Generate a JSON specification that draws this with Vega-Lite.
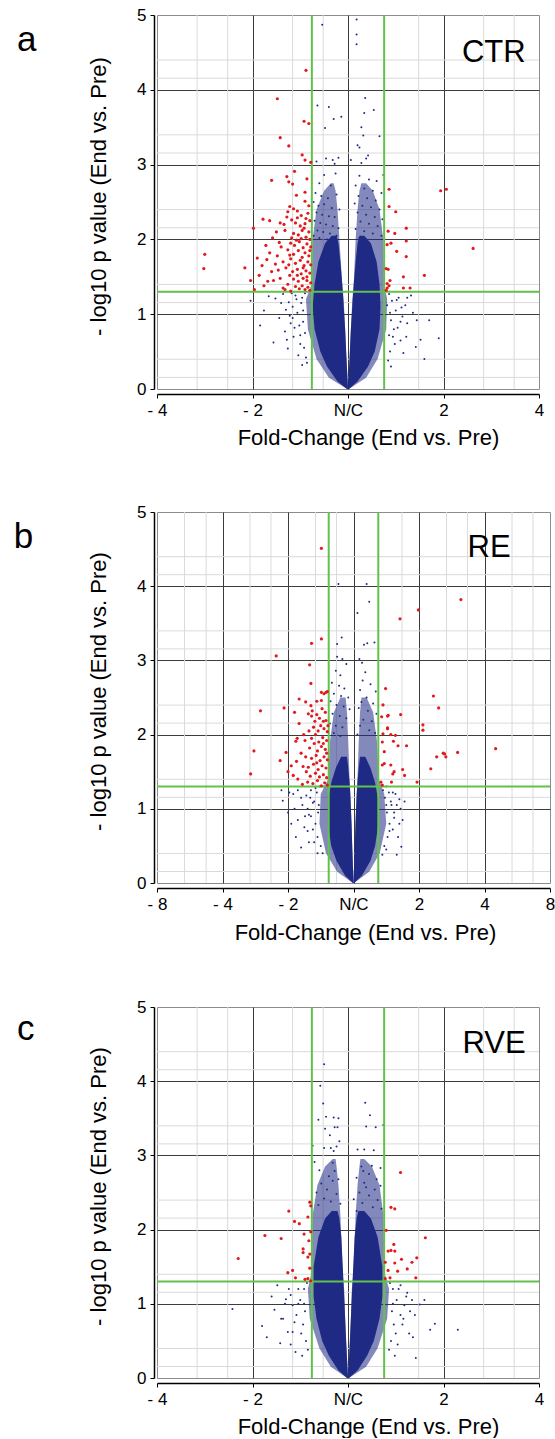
{
"$schema": "https://vega.github.io/schema/vega-lite/v6.json",
"padding": {"left": 13, "top": 5, "right": 0, "bottom": 0},
"background": "white",
"config": {
 "view": {"stroke": "#8c8c8c", "strokeWidth": 1},
 "axis": {"labelFont": "Liberation Sans", "titleFont": "Liberation Sans", "labelColor": "#000", "titleColor": "#000", "domainColor": "#000", "tickColor": "#000", "labelFontSize": 17, "titleFontSize": 22, "titleFontWeight": "normal", "labelOverlap": false, "labelFlush": false, "labelBound": false, "gridWidth": 1, "gridColor": "#3c3c3c", "domainWidth": 1.5, "tickSize": 4, "labelPadding": 4, "grid": true}
},
"datasets": {
"gridAC": [
{"o":"x","v":-1.58},{"o":"x","v":-1.26},{"o":"x","v":-0.58},{"o":"x","v":-0.26},{"o":"x","v":0.74},{"o":"x","v":1.42},{"o":"x","v":1.74},
{"o":"y","v":0.155},{"o":"y","v":0.398},{"o":"y","v":1.155},{"o":"y","v":1.398},{"o":"y","v":2.155},{"o":"y","v":2.398},{"o":"y","v":3.155},{"o":"y","v":3.398},{"o":"y","v":4.155},{"o":"y","v":4.398}
],
"gridB": [
{"o":"x","v":-2.58},{"o":"x","v":-2.25},{"o":"x","v":-1.58},{"o":"x","v":-1.26},{"o":"x","v":-0.58},{"o":"x","v":-0.26},{"o":"x","v":0.74},{"o":"x","v":1.42},{"o":"x","v":1.74},{"o":"x","v":2.42},{"o":"x","v":2.74},
{"o":"y","v":0.155},{"o":"y","v":0.398},{"o":"y","v":1.155},{"o":"y","v":1.398},{"o":"y","v":2.155},{"o":"y","v":2.398},{"o":"y","v":3.155},{"o":"y","v":3.398},{"o":"y","v":4.155},{"o":"y","v":4.398}
],
"areaA": [
{"g":"Lm","t":"m","y":0,"x1":-0.01,"x2":0},{"g":"Lm","t":"m","y":0.15,"x1":-0.2,"x2":-0.005},{"g":"Lm","t":"m","y":0.4,"x1":-0.33,"x2":-0.015},{"g":"Lm","t":"m","y":0.8,"x1":-0.42,"x2":-0.03},{"g":"Lm","t":"m","y":1.2,"x1":-0.44,"x2":-0.045},{"g":"Lm","t":"m","y":1.4,"x1":-0.38,"x2":-0.06},{"g":"Lm","t":"m","y":2.0,"x1":-0.37,"x2":-0.09},{"g":"Lm","t":"m","y":2.4,"x1":-0.33,"x2":-0.11},{"g":"Lm","t":"m","y":2.65,"x1":-0.25,"x2":-0.13},{"g":"Lm","t":"m","y":2.75,"x1":-0.18,"x2":-0.15},
{"g":"Lc","t":"c","y":0,"x1":-0.01,"x2":0},{"g":"Lc","t":"c","y":0.1,"x1":-0.11,"x2":-0.004},{"g":"Lc","t":"c","y":0.3,"x1":-0.22,"x2":-0.012},{"g":"Lc","t":"c","y":0.5,"x1":-0.29,"x2":-0.02},{"g":"Lc","t":"c","y":0.8,"x1":-0.35,"x2":-0.03},{"g":"Lc","t":"c","y":1.1,"x1":-0.37,"x2":-0.045},{"g":"Lc","t":"c","y":1.4,"x1":-0.35,"x2":-0.06},{"g":"Lc","t":"c","y":1.7,"x1":-0.31,"x2":-0.08},{"g":"Lc","t":"c","y":1.95,"x1":-0.24,"x2":-0.1},{"g":"Lc","t":"c","y":2.05,"x1":-0.17,"x2":-0.12},
{"g":"Rm","t":"m","y":0,"x1":0,"x2":0.01},{"g":"Rm","t":"m","y":0.15,"x1":0.005,"x2":0.19},{"g":"Rm","t":"m","y":0.4,"x1":0.015,"x2":0.31},{"g":"Rm","t":"m","y":0.8,"x1":0.03,"x2":0.4},{"g":"Rm","t":"m","y":1.2,"x1":0.045,"x2":0.41},{"g":"Rm","t":"m","y":1.4,"x1":0.06,"x2":0.38},{"g":"Rm","t":"m","y":2.0,"x1":0.08,"x2":0.37},{"g":"Rm","t":"m","y":2.4,"x1":0.1,"x2":0.33},{"g":"Rm","t":"m","y":2.65,"x1":0.12,"x2":0.26},{"g":"Rm","t":"m","y":2.75,"x1":0.14,"x2":0.19},
{"g":"Rc","t":"c","y":0,"x1":0,"x2":0.01},{"g":"Rc","t":"c","y":0.1,"x1":0.004,"x2":0.1},{"g":"Rc","t":"c","y":0.3,"x1":0.012,"x2":0.21},{"g":"Rc","t":"c","y":0.5,"x1":0.02,"x2":0.28},{"g":"Rc","t":"c","y":0.8,"x1":0.03,"x2":0.33},{"g":"Rc","t":"c","y":1.1,"x1":0.045,"x2":0.34},{"g":"Rc","t":"c","y":1.4,"x1":0.06,"x2":0.33},{"g":"Rc","t":"c","y":1.7,"x1":0.08,"x2":0.3},{"g":"Rc","t":"c","y":1.95,"x1":0.1,"x2":0.24},{"g":"Rc","t":"c","y":2.05,"x1":0.12,"x2":0.17}
],
"areaB": [
{"g":"Lm","t":"m","y":0,"x1":-0.01,"x2":0},{"g":"Lm","t":"m","y":0.15,"x1":-0.25,"x2":-0.005},{"g":"Lm","t":"m","y":0.4,"x1":-0.42,"x2":-0.015},{"g":"Lm","t":"m","y":0.8,"x1":-0.52,"x2":-0.03},{"g":"Lm","t":"m","y":1.2,"x1":-0.5,"x2":-0.045},{"g":"Lm","t":"m","y":1.4,"x1":-0.385,"x2":-0.06},{"g":"Lm","t":"m","y":1.9,"x1":-0.36,"x2":-0.08},{"g":"Lm","t":"m","y":2.3,"x1":-0.3,"x2":-0.1},{"g":"Lm","t":"m","y":2.5,"x1":-0.2,"x2":-0.12},
{"g":"Lc","t":"c","y":0,"x1":-0.01,"x2":0},{"g":"Lc","t":"c","y":0.1,"x1":-0.13,"x2":-0.004},{"g":"Lc","t":"c","y":0.3,"x1":-0.26,"x2":-0.012},{"g":"Lc","t":"c","y":0.5,"x1":-0.34,"x2":-0.02},{"g":"Lc","t":"c","y":0.8,"x1":-0.39,"x2":-0.03},{"g":"Lc","t":"c","y":1.1,"x1":-0.39,"x2":-0.045},{"g":"Lc","t":"c","y":1.35,"x1":-0.34,"x2":-0.06},{"g":"Lc","t":"c","y":1.55,"x1":-0.27,"x2":-0.08},{"g":"Lc","t":"c","y":1.7,"x1":-0.19,"x2":-0.1},
{"g":"Rm","t":"m","y":0,"x1":0,"x2":0.01},{"g":"Rm","t":"m","y":0.15,"x1":0.005,"x2":0.24},{"g":"Rm","t":"m","y":0.4,"x1":0.015,"x2":0.4},{"g":"Rm","t":"m","y":0.8,"x1":0.03,"x2":0.5},{"g":"Rm","t":"m","y":1.2,"x1":0.045,"x2":0.47},{"g":"Rm","t":"m","y":1.4,"x1":0.06,"x2":0.385},{"g":"Rm","t":"m","y":1.9,"x1":0.08,"x2":0.36},{"g":"Rm","t":"m","y":2.3,"x1":0.1,"x2":0.3},{"g":"Rm","t":"m","y":2.5,"x1":0.12,"x2":0.2},
{"g":"Rc","t":"c","y":0,"x1":0,"x2":0.01},{"g":"Rc","t":"c","y":0.1,"x1":0.004,"x2":0.13},{"g":"Rc","t":"c","y":0.3,"x1":0.012,"x2":0.26},{"g":"Rc","t":"c","y":0.5,"x1":0.02,"x2":0.33},{"g":"Rc","t":"c","y":0.8,"x1":0.03,"x2":0.38},{"g":"Rc","t":"c","y":1.1,"x1":0.045,"x2":0.38},{"g":"Rc","t":"c","y":1.35,"x1":0.06,"x2":0.33},{"g":"Rc","t":"c","y":1.55,"x1":0.08,"x2":0.26},{"g":"Rc","t":"c","y":1.7,"x1":0.1,"x2":0.18}
],
"areaC": [
{"g":"Lm","t":"m","y":0,"x1":-0.01,"x2":0},{"g":"Lm","t":"m","y":0.15,"x1":-0.18,"x2":-0.005},{"g":"Lm","t":"m","y":0.4,"x1":-0.3,"x2":-0.015},{"g":"Lm","t":"m","y":0.8,"x1":-0.4,"x2":-0.03},{"g":"Lm","t":"m","y":1.2,"x1":-0.42,"x2":-0.04},{"g":"Lm","t":"m","y":1.4,"x1":-0.385,"x2":-0.055},{"g":"Lm","t":"m","y":2.2,"x1":-0.37,"x2":-0.08},{"g":"Lm","t":"m","y":2.6,"x1":-0.32,"x2":-0.1},{"g":"Lm","t":"m","y":2.85,"x1":-0.24,"x2":-0.12},{"g":"Lm","t":"m","y":2.95,"x1":-0.16,"x2":-0.13},
{"g":"Lc","t":"c","y":0,"x1":-0.01,"x2":0},{"g":"Lc","t":"c","y":0.1,"x1":-0.1,"x2":-0.004},{"g":"Lc","t":"c","y":0.3,"x1":-0.2,"x2":-0.012},{"g":"Lc","t":"c","y":0.5,"x1":-0.27,"x2":-0.02},{"g":"Lc","t":"c","y":0.8,"x1":-0.33,"x2":-0.03},{"g":"Lc","t":"c","y":1.1,"x1":-0.36,"x2":-0.04},{"g":"Lc","t":"c","y":1.5,"x1":-0.36,"x2":-0.055},{"g":"Lc","t":"c","y":1.9,"x1":-0.31,"x2":-0.07},{"g":"Lc","t":"c","y":2.15,"x1":-0.24,"x2":-0.09},{"g":"Lc","t":"c","y":2.25,"x1":-0.17,"x2":-0.11},
{"g":"Rm","t":"m","y":0,"x1":0,"x2":0.01},{"g":"Rm","t":"m","y":0.15,"x1":0.005,"x2":0.19},{"g":"Rm","t":"m","y":0.4,"x1":0.015,"x2":0.31},{"g":"Rm","t":"m","y":0.8,"x1":0.03,"x2":0.41},{"g":"Rm","t":"m","y":1.2,"x1":0.04,"x2":0.43},{"g":"Rm","t":"m","y":1.4,"x1":0.055,"x2":0.385},{"g":"Rm","t":"m","y":2.2,"x1":0.08,"x2":0.37},{"g":"Rm","t":"m","y":2.6,"x1":0.1,"x2":0.33},{"g":"Rm","t":"m","y":2.85,"x1":0.12,"x2":0.25},{"g":"Rm","t":"m","y":2.95,"x1":0.13,"x2":0.17},
{"g":"Rc","t":"c","y":0,"x1":0,"x2":0.01},{"g":"Rc","t":"c","y":0.1,"x1":0.004,"x2":0.1},{"g":"Rc","t":"c","y":0.3,"x1":0.012,"x2":0.2},{"g":"Rc","t":"c","y":0.5,"x1":0.02,"x2":0.27},{"g":"Rc","t":"c","y":0.8,"x1":0.03,"x2":0.33},{"g":"Rc","t":"c","y":1.1,"x1":0.04,"x2":0.36},{"g":"Rc","t":"c","y":1.5,"x1":0.055,"x2":0.36},{"g":"Rc","t":"c","y":1.9,"x1":0.07,"x2":0.31},{"g":"Rc","t":"c","y":2.15,"x1":0.09,"x2":0.24},{"g":"Rc","t":"c","y":2.25,"x1":0.11,"x2":0.17}
],
"ptsA": [
{"x":-0.27,"y":4.87,"s":"n"},{"x":-0.32,"y":3.79,"s":"n"},{"x":-0.2,"y":3.77,"s":"n"},{"x":-0.15,"y":3.61,"s":"n"},{"x":-0.07,"y":3.64,"s":"n"},{"x":-0.24,"y":3.49,"s":"n"},{"x":-0.33,"y":3.04,"s":"n"},{"x":-0.23,"y":3.08,"s":"n"},{"x":-0.16,"y":3.06,"s":"n"},{"x":-0.1,"y":3.09,"s":"n"},{"x":-0.14,"y":3.01,"s":"n"},{"x":-0.13,"y":2.88,"s":"n"},{"x":-0.25,"y":2.86,"s":"n"},{"x":-0.3,"y":2.75,"s":"n"},{"x":-0.18,"y":2.72,"s":"n"},{"x":-0.34,"y":2.62,"s":"n"},{"x":-0.28,"y":2.58,"s":"n"},{"x":-0.21,"y":2.55,"s":"n"},{"x":-0.12,"y":2.6,"s":"n"},{"x":-0.36,"y":2.5,"s":"n"},{"x":-0.31,"y":2.45,"s":"n"},{"x":-0.25,"y":2.47,"s":"n"},{"x":-0.17,"y":2.42,"s":"n"},{"x":-0.09,"y":2.4,"s":"n"},{"x":-0.33,"y":2.36,"s":"n"},{"x":-0.27,"y":2.33,"s":"n"},{"x":-0.2,"y":2.31,"s":"n"},{"x":-0.14,"y":2.3,"s":"n"},{"x":-0.35,"y":2.25,"s":"n"},{"x":-0.29,"y":2.22,"s":"n"},{"x":-0.23,"y":2.2,"s":"n"},{"x":-0.16,"y":2.18,"s":"n"},{"x":-0.1,"y":2.15,"s":"n"},{"x":-0.32,"y":2.12,"s":"n"},{"x":-0.26,"y":2.1,"s":"n"},{"x":-0.19,"y":2.08,"s":"n"},{"x":-0.36,"y":2.05,"s":"n"},{"x":-0.12,"y":2.05,"s":"n"},{"x":-0.3,"y":2.02,"s":"n"},{"x":-0.22,"y":2.0,"s":"n"},
{"x":0.09,"y":4.94,"s":"n"},{"x":0.09,"y":4.74,"s":"n"},{"x":0.09,"y":4.61,"s":"n"},{"x":0.18,"y":3.89,"s":"n"},{"x":0.17,"y":3.69,"s":"n"},{"x":0.27,"y":3.73,"s":"n"},{"x":0.14,"y":3.5,"s":"n"},{"x":0.16,"y":3.39,"s":"n"},{"x":0.33,"y":3.38,"s":"n"},{"x":0.1,"y":3.26,"s":"n"},{"x":0.12,"y":3.23,"s":"n"},{"x":0.21,"y":3.12,"s":"n"},{"x":0.19,"y":3.08,"s":"n"},{"x":0.03,"y":3.06,"s":"n"},{"x":0.14,"y":3.02,"s":"n"},{"x":0.37,"y":2.86,"s":"n"},{"x":0.12,"y":2.85,"s":"n"},{"x":0.22,"y":2.8,"s":"n"},{"x":0.3,"y":2.78,"s":"n"},{"x":0.08,"y":2.72,"s":"n"},{"x":0.17,"y":2.68,"s":"n"},{"x":0.26,"y":2.65,"s":"n"},{"x":0.35,"y":2.62,"s":"n"},{"x":0.11,"y":2.58,"s":"n"},{"x":0.2,"y":2.55,"s":"n"},{"x":0.29,"y":2.52,"s":"n"},{"x":0.07,"y":2.48,"s":"n"},{"x":0.15,"y":2.45,"s":"n"},{"x":0.24,"y":2.43,"s":"n"},{"x":0.33,"y":2.4,"s":"n"},{"x":0.1,"y":2.36,"s":"n"},{"x":0.19,"y":2.33,"s":"n"},{"x":0.28,"y":2.3,"s":"n"},{"x":0.36,"y":2.27,"s":"n"},{"x":0.13,"y":2.24,"s":"n"},{"x":0.22,"y":2.21,"s":"n"},{"x":0.31,"y":2.18,"s":"n"},{"x":0.08,"y":2.14,"s":"n"},{"x":0.17,"y":2.11,"s":"n"},{"x":0.26,"y":2.08,"s":"n"},{"x":0.35,"y":2.05,"s":"n"},{"x":0.12,"y":2.02,"s":"n"},
{"x":-1.02,"y":1.18,"s":"n"},{"x":-0.83,"y":1.24,"s":"n"},{"x":-0.76,"y":1.21,"s":"n"},{"x":-0.65,"y":1.06,"s":"n"},{"x":-0.66,"y":0.77,"s":"n"},{"x":-0.63,"y":0.54,"s":"n"},{"x":-0.57,"y":0.7,"s":"n"},{"x":-0.72,"y":0.95,"s":"n"},{"x":-0.88,"y":1.05,"s":"n"},{"x":-0.7,"y":1.15,"s":"n"},{"x":-0.55,"y":1.25,"s":"n"},{"x":-0.6,"y":0.88,"s":"n"},{"x":-0.52,"y":0.45,"s":"n"},{"x":-0.48,"y":0.32,"s":"n"},{"x":-0.78,"y":0.62,"s":"n"},{"x":-0.68,"y":1.27,"s":"n"},{"x":-0.92,"y":0.85,"s":"n"},{"x":-0.58,"y":1.1,"s":"n"},
{"x":-0.46,"y":0.55,"s":"n"},{"x":-0.5,"y":0.72,"s":"n"},{"x":-0.47,"y":0.9,"s":"n"},{"x":-0.53,"y":1.02,"s":"n"},{"x":-0.49,"y":1.15,"s":"n"},{"x":-0.45,"y":1.28,"s":"n"},{"x":-0.56,"y":0.82,"s":"n"},{"x":-0.61,"y":0.98,"s":"n"},{"x":-0.44,"y":0.42,"s":"n"},{"x":-0.5,"y":0.6,"s":"n"},{"x":-0.54,"y":1.2,"s":"n"},{"x":-0.62,"y":1.16,"s":"n"},{"x":-0.47,"y":1.05,"s":"n"},{"x":-0.58,"y":0.95,"s":"n"},{"x":-0.51,"y":0.85,"s":"n"},{"x":-0.64,"y":0.66,"s":"n"},{"x":-0.45,"y":0.75,"s":"n"},{"x":-0.59,"y":1.28,"s":"n"},{"x":-0.43,"y":0.35,"s":"n"},{"x":-0.48,"y":1.22,"s":"n"},
{"x":0.72,"y":0.92,"s":"n"},{"x":0.76,"y":0.66,"s":"n"},{"x":0.95,"y":0.68,"s":"n"},{"x":0.71,"y":0.56,"s":"n"},{"x":0.62,"y":0.88,"s":"n"},{"x":0.51,"y":1.19,"s":"n"},{"x":0.56,"y":1.09,"s":"n"},{"x":0.66,"y":1.25,"s":"n"},{"x":0.8,"y":0.4,"s":"n"},{"x":0.58,"y":0.48,"s":"n"},{"x":0.45,"y":0.3,"s":"n"},{"x":0.68,"y":1.02,"s":"n"},{"x":0.85,"y":0.92,"s":"n"},{"x":0.55,"y":0.65,"s":"n"},{"x":0.62,"y":1.22,"s":"n"},
{"x":0.44,"y":0.5,"s":"n"},{"x":0.47,"y":0.7,"s":"n"},{"x":0.45,"y":0.92,"s":"n"},{"x":0.5,"y":1.05,"s":"n"},{"x":0.46,"y":1.18,"s":"n"},{"x":0.43,"y":1.27,"s":"n"},{"x":0.52,"y":0.82,"s":"n"},{"x":0.57,"y":0.97,"s":"n"},{"x":0.42,"y":0.38,"s":"n"},{"x":0.49,"y":0.6,"s":"n"},{"x":0.53,"y":1.22,"s":"n"},{"x":0.6,"y":1.12,"s":"n"},{"x":0.44,"y":1.02,"s":"n"},{"x":0.55,"y":0.9,"s":"n"},{"x":0.48,"y":0.8,"s":"n"},{"x":0.61,"y":0.7,"s":"n"},{"x":0.43,"y":0.72,"s":"n"},{"x":0.41,"y":1.12,"s":"n"},
{"x":-0.44,"y":4.26,"s":"r"},{"x":-0.74,"y":3.88,"s":"r"},{"x":-0.46,"y":3.58,"s":"r"},{"x":-0.41,"y":3.55,"s":"r"},{"x":-0.71,"y":3.36,"s":"r"},{"x":-0.62,"y":3.25,"s":"r"},{"x":-0.48,"y":3.13,"s":"r"},{"x":-0.45,"y":3.06,"s":"r"},{"x":-0.39,"y":3.03,"s":"r"},{"x":-0.56,"y":2.91,"s":"r"},{"x":-0.8,"y":2.79,"s":"r"},{"x":-0.64,"y":2.84,"s":"r"},{"x":-0.62,"y":2.77,"s":"r"},{"x":-0.58,"y":2.74,"s":"r"},{"x":-0.43,"y":2.81,"s":"r"},{"x":-0.45,"y":2.63,"s":"r"},{"x":-0.54,"y":2.59,"s":"r"},{"x":-0.45,"y":2.51,"s":"r"},{"x":-0.61,"y":2.44,"s":"r"},{"x":-0.57,"y":2.41,"s":"r"},{"x":-0.63,"y":2.37,"s":"r"},{"x":-0.53,"y":2.38,"s":"r"},{"x":-0.41,"y":2.45,"s":"r"},{"x":-0.42,"y":2.35,"s":"r"},{"x":-0.89,"y":2.27,"s":"r"},{"x":-0.53,"y":2.29,"s":"r"},{"x":-0.71,"y":2.22,"s":"r"},{"x":-0.67,"y":2.2,"s":"r"},{"x":-0.59,"y":2.26,"s":"r"},{"x":-0.55,"y":2.22,"s":"r"},{"x":-0.45,"y":2.21,"s":"r"},{"x":-0.48,"y":2.12,"s":"r"},{"x":-0.57,"y":2.08,"s":"r"},{"x":-0.52,"y":2.06,"s":"r"},{"x":-0.99,"y":2.15,"s":"r"},
{"x":-1.5,"y":1.8,"s":"r"},{"x":-1.51,"y":1.61,"s":"r"},{"x":-0.93,"y":1.52,"s":"r"},{"x":-0.85,"y":1.73,"s":"r"},{"x":-0.82,"y":1.82,"s":"r"},{"x":-0.76,"y":1.67,"s":"r"},{"x":-0.78,"y":1.45,"s":"r"},{"x":-0.73,"y":1.59,"s":"r"},{"x":-0.72,"y":1.96,"s":"r"},{"x":-0.68,"y":1.35,"s":"r"},{"x":-0.66,"y":1.33,"s":"r"},{"x":-0.61,"y":1.79,"s":"r"},
{"x":-0.4,"y":1.32,"s":"r"},{"x":-0.42,"y":1.36,"s":"r"},{"x":-0.45,"y":1.33,"s":"r"},{"x":-0.48,"y":1.38,"s":"r"},{"x":-0.51,"y":1.34,"s":"r"},{"x":-0.55,"y":1.37,"s":"r"},{"x":-0.6,"y":1.31,"s":"r"},{"x":-0.63,"y":1.4,"s":"r"},{"x":-0.39,"y":1.42,"s":"r"},{"x":-0.43,"y":1.45,"s":"r"},{"x":-0.47,"y":1.48,"s":"r"},{"x":-0.52,"y":1.44,"s":"r"},{"x":-0.57,"y":1.47,"s":"r"},{"x":-0.61,"y":1.52,"s":"r"},{"x":-0.4,"y":1.55,"s":"r"},{"x":-0.44,"y":1.58,"s":"r"},{"x":-0.49,"y":1.54,"s":"r"},{"x":-0.53,"y":1.6,"s":"r"},{"x":-0.58,"y":1.57,"s":"r"},{"x":-0.65,"y":1.62,"s":"r"},{"x":-0.39,"y":1.66,"s":"r"},{"x":-0.42,"y":1.7,"s":"r"},{"x":-0.46,"y":1.65,"s":"r"},{"x":-0.5,"y":1.72,"s":"r"},{"x":-0.55,"y":1.68,"s":"r"},{"x":-0.6,"y":1.74,"s":"r"},{"x":-0.41,"y":1.78,"s":"r"},{"x":-0.45,"y":1.82,"s":"r"},{"x":-0.48,"y":1.76,"s":"r"},{"x":-0.52,"y":1.85,"s":"r"},{"x":-0.57,"y":1.8,"s":"r"},{"x":-0.63,"y":1.86,"s":"r"},{"x":-0.39,"y":1.9,"s":"r"},{"x":-0.43,"y":1.94,"s":"r"},{"x":-0.47,"y":1.89,"s":"r"},{"x":-0.51,"y":1.97,"s":"r"},{"x":-0.56,"y":1.92,"s":"r"},{"x":-0.4,"y":2.0,"s":"r"},{"x":-0.44,"y":2.03,"s":"r"},{"x":-0.49,"y":2.01,"s":"r"},{"x":-0.54,"y":1.99,"s":"r"},{"x":-0.59,"y":2.02,"s":"r"},{"x":-0.41,"y":2.1,"s":"r"},{"x":-0.46,"y":2.15,"s":"r"},{"x":-0.5,"y":2.18,"s":"r"},{"x":-0.4,"y":2.25,"s":"r"},{"x":-0.44,"y":2.28,"s":"r"},{"x":-0.49,"y":2.32,"s":"r"},{"x":-0.66,"y":2.12,"s":"r"},{"x":-0.7,"y":1.9,"s":"r"},{"x":-0.68,"y":1.7,"s":"r"},{"x":-0.71,"y":1.48,"s":"r"},{"x":-0.74,"y":1.78,"s":"r"},{"x":-0.64,"y":2.3,"s":"r"},{"x":-0.6,"y":1.95,"s":"r"},{"x":-0.43,"y":1.5,"s":"r"},{"x":-0.53,"y":1.52,"s":"r"},{"x":-0.47,"y":1.62,"s":"r"},{"x":-0.62,"y":1.66,"s":"r"},{"x":-0.4,"y":1.85,"s":"r"},
{"x":-1.02,"y":1.45,"s":"r"},{"x":-0.95,"y":1.75,"s":"r"},{"x":-1.08,"y":1.62,"s":"r"},{"x":-0.88,"y":1.38,"s":"r"},{"x":-0.98,"y":1.33,"s":"r"},{"x":-0.84,"y":1.44,"s":"r"},{"x":-0.8,"y":1.57,"s":"r"},{"x":-0.9,"y":1.65,"s":"r"},{"x":-0.86,"y":1.92,"s":"r"},{"x":-0.79,"y":2.02,"s":"r"},{"x":-0.75,"y":2.1,"s":"r"},{"x":-0.82,"y":2.25,"s":"r"},
{"x":0.43,"y":2.67,"s":"r"},{"x":0.43,"y":2.44,"s":"r"},{"x":0.5,"y":2.37,"s":"r"},{"x":0.42,"y":2.11,"s":"r"},{"x":0.61,"y":2.15,"s":"r"},{"x":0.49,"y":2.08,"s":"r"},{"x":0.61,"y":1.98,"s":"r"},{"x":0.45,"y":1.95,"s":"r"},{"x":0.97,"y":2.65,"s":"r"},{"x":1.03,"y":2.67,"s":"r"},{"x":1.31,"y":1.88,"s":"r"},{"x":0.41,"y":1.93,"s":"r"},{"x":0.51,"y":1.84,"s":"r"},{"x":0.61,"y":1.77,"s":"r"},{"x":0.4,"y":1.61,"s":"r"},{"x":0.42,"y":1.6,"s":"r"},{"x":0.58,"y":1.5,"s":"r"},{"x":0.8,"y":1.52,"s":"r"},{"x":0.58,"y":1.35,"s":"r"},{"x":0.65,"y":1.35,"s":"r"},{"x":0.41,"y":1.41,"s":"r"},{"x":0.41,"y":1.35,"s":"r"},{"x":0.43,"y":1.38,"s":"r"},{"x":0.4,"y":1.32,"s":"r"},{"x":0.44,"y":1.45,"s":"r"}
],
"ptsB": [
{"x":-0.23,"y":4.03,"s":"n"},{"x":0.2,"y":4.03,"s":"n"},{"x":0.24,"y":3.79,"s":"n"},{"x":0.06,"y":3.64,"s":"n"},{"x":-0.18,"y":3.31,"s":"n"},{"x":-0.25,"y":3.22,"s":"n"},{"x":0.16,"y":3.21,"s":"n"},{"x":0.21,"y":3.23,"s":"n"},{"x":0.32,"y":3.24,"s":"n"},{"x":-0.25,"y":3.05,"s":"n"},{"x":-0.17,"y":3.02,"s":"n"},{"x":0.09,"y":3.02,"s":"n"},{"x":0.13,"y":2.97,"s":"n"},{"x":-0.11,"y":2.95,"s":"n"},{"x":-0.27,"y":2.86,"s":"n"},{"x":-0.2,"y":2.8,"s":"n"},{"x":0.18,"y":2.84,"s":"n"},{"x":0.14,"y":2.73,"s":"n"},{"x":-0.33,"y":2.7,"s":"n"},{"x":-0.22,"y":2.66,"s":"n"},{"x":-0.14,"y":2.62,"s":"n"},{"x":0.26,"y":2.68,"s":"n"},{"x":0.1,"y":2.6,"s":"n"},{"x":0.34,"y":2.58,"s":"n"},{"x":-0.3,"y":2.55,"s":"n"},{"x":-0.19,"y":2.52,"s":"n"},{"x":-0.08,"y":2.5,"s":"n"},{"x":0.2,"y":2.5,"s":"n"},{"x":0.12,"y":2.44,"s":"n"},{"x":0.3,"y":2.42,"s":"n"},{"x":-0.35,"y":2.45,"s":"n"},{"x":-0.26,"y":2.4,"s":"n"},{"x":-0.15,"y":2.38,"s":"n"},{"x":-0.06,"y":2.34,"s":"n"},{"x":0.08,"y":2.36,"s":"n"},{"x":0.22,"y":2.32,"s":"n"},{"x":0.35,"y":2.28,"s":"n"},{"x":-0.32,"y":2.28,"s":"n"},{"x":-0.21,"y":2.25,"s":"n"},{"x":-0.11,"y":2.22,"s":"n"},{"x":0.15,"y":2.2,"s":"n"},{"x":0.28,"y":2.18,"s":"n"},{"x":-0.36,"y":2.15,"s":"n"},{"x":-0.27,"y":2.12,"s":"n"},{"x":-0.17,"y":2.1,"s":"n"},{"x":0.1,"y":2.12,"s":"n"},{"x":0.24,"y":2.06,"s":"n"},{"x":0.33,"y":2.02,"s":"n"},{"x":-0.3,"y":2.02,"s":"n"},{"x":-0.2,"y":1.98,"s":"n"},{"x":0.06,"y":2.0,"s":"n"},
{"x":-1.08,"y":1.11,"s":"n"},{"x":-1.0,"y":0.95,"s":"n"},{"x":-0.92,"y":1.2,"s":"n"},{"x":-0.85,"y":0.85,"s":"n"},{"x":-0.78,"y":1.05,"s":"n"},{"x":-0.7,"y":0.7,"s":"n"},{"x":-0.65,"y":1.25,"s":"n"},{"x":-0.6,"y":0.55,"s":"n"},{"x":-0.88,"y":0.62,"s":"n"},{"x":-0.95,"y":0.8,"s":"n"},{"x":-0.72,"y":1.18,"s":"n"},{"x":-0.55,"y":0.4,"s":"n"},{"x":-0.8,"y":0.48,"s":"n"},{"x":-1.1,"y":1.25,"s":"n"},{"x":-0.68,"y":0.92,"s":"n"},{"x":-0.98,"y":1.22,"s":"n"},{"x":-0.62,"y":1.08,"s":"n"},{"x":-0.75,"y":0.75,"s":"n"},
{"x":-0.55,"y":0.62,"s":"n"},{"x":-0.58,"y":0.8,"s":"n"},{"x":-0.54,"y":0.95,"s":"n"},{"x":-0.6,"y":1.1,"s":"n"},{"x":-0.56,"y":1.22,"s":"n"},{"x":-0.52,"y":1.3,"s":"n"},{"x":-0.65,"y":0.9,"s":"n"},{"x":-0.7,"y":1.0,"s":"n"},{"x":-0.5,"y":0.5,"s":"n"},{"x":-0.62,"y":0.72,"s":"n"},{"x":-0.66,"y":1.15,"s":"n"},{"x":-0.74,"y":0.9,"s":"n"},{"x":-0.53,"y":1.05,"s":"n"},{"x":-0.68,"y":0.55,"s":"n"},{"x":-0.58,"y":1.28,"s":"n"},{"x":-0.8,"y":1.15,"s":"n"},{"x":-0.9,"y":1.0,"s":"n"},{"x":-0.47,"y":0.4,"s":"n"},{"x":-0.45,"y":1.3,"s":"n"},{"x":-0.85,"y":1.25,"s":"n"},
{"x":0.73,"y":0.49,"s":"n"},{"x":0.7,"y":1.13,"s":"n"},{"x":0.62,"y":0.95,"s":"n"},{"x":0.55,"y":0.7,"s":"n"},{"x":0.68,"y":0.62,"s":"n"},{"x":0.5,"y":0.45,"s":"n"},{"x":0.6,"y":1.22,"s":"n"},{"x":0.75,"y":0.85,"s":"n"},{"x":0.58,"y":1.05,"s":"n"},{"x":0.66,"y":0.38,"s":"n"},{"x":0.48,"y":1.15,"s":"n"},{"x":0.72,"y":1.0,"s":"n"},
{"x":0.52,"y":0.62,"s":"n"},{"x":0.55,"y":0.8,"s":"n"},{"x":0.51,"y":0.95,"s":"n"},{"x":0.57,"y":1.1,"s":"n"},{"x":0.54,"y":1.22,"s":"n"},{"x":0.5,"y":1.3,"s":"n"},{"x":0.62,"y":0.88,"s":"n"},{"x":0.66,"y":1.05,"s":"n"},{"x":0.47,"y":0.5,"s":"n"},{"x":0.6,"y":0.72,"s":"n"},{"x":0.64,"y":1.2,"s":"n"},{"x":0.7,"y":0.8,"s":"n"},{"x":0.5,"y":1.05,"s":"n"},{"x":0.45,"y":1.25,"s":"n"},{"x":0.44,"y":0.38,"s":"n"},{"x":0.78,"y":1.1,"s":"n"},
{"x":-0.49,"y":4.51,"s":"r"},{"x":-0.64,"y":3.23,"s":"r"},{"x":-0.49,"y":3.29,"s":"r"},{"x":-1.18,"y":3.06,"s":"r"},{"x":-0.67,"y":2.94,"s":"r"},{"x":-0.65,"y":2.69,"s":"r"},{"x":-0.49,"y":2.57,"s":"r"},{"x":-0.45,"y":2.55,"s":"r"},{"x":-0.42,"y":2.57,"s":"r"},{"x":-0.4,"y":2.58,"s":"r"},{"x":-0.83,"y":2.48,"s":"r"},{"x":-0.56,"y":2.45,"s":"r"},{"x":-0.49,"y":2.46,"s":"r"},{"x":-0.73,"y":2.44,"s":"r"},{"x":-0.65,"y":2.39,"s":"r"},{"x":-1.42,"y":2.32,"s":"r"},{"x":-1.06,"y":2.36,"s":"r"},{"x":-0.69,"y":2.28,"s":"r"},{"x":-0.64,"y":2.25,"s":"r"},{"x":-0.56,"y":2.27,"s":"r"},{"x":-0.83,"y":2.15,"s":"r"},{"x":-0.46,"y":2.18,"s":"r"},{"x":-0.42,"y":2.19,"s":"r"},{"x":-0.54,"y":2.05,"s":"r"},
{"x":0.49,"y":2.62,"s":"r"},{"x":0.45,"y":2.4,"s":"r"},{"x":0.43,"y":2.24,"s":"r"},{"x":0.52,"y":2.25,"s":"r"},{"x":0.72,"y":2.27,"s":"r"},{"x":0.52,"y":2.09,"s":"r"},{"x":0.71,"y":3.56,"s":"r"},{"x":0.99,"y":3.68,"s":"r"},{"x":1.64,"y":3.82,"s":"r"},{"x":1.22,"y":2.52,"s":"r"},{"x":1.3,"y":2.36,"s":"r"},{"x":1.06,"y":2.13,"s":"r"},{"x":1.06,"y":2.06,"s":"r"},
{"x":-1.52,"y":1.78,"s":"r"},{"x":-1.03,"y":1.76,"s":"r"},{"x":-1.57,"y":1.47,"s":"r"},{"x":-0.88,"y":1.91,"s":"r"},{"x":-0.87,"y":1.64,"s":"r"},{"x":-0.95,"y":1.58,"s":"r"},{"x":-0.92,"y":1.45,"s":"r"},{"x":-0.77,"y":1.57,"s":"r"},{"x":-0.74,"y":1.92,"s":"r"},
{"x":0.53,"y":2.26,"s":"r"},{"x":0.45,"y":2.01,"s":"r"},{"x":0.57,"y":2.0,"s":"r"},{"x":0.64,"y":1.99,"s":"r"},{"x":0.52,"y":2.08,"s":"r"},{"x":0.44,"y":1.9,"s":"r"},{"x":0.61,"y":1.91,"s":"r"},{"x":0.68,"y":1.85,"s":"r"},{"x":0.81,"y":1.85,"s":"r"},{"x":0.47,"y":1.77,"s":"r"},{"x":0.44,"y":1.59,"s":"r"},{"x":0.47,"y":1.61,"s":"r"},{"x":0.57,"y":1.59,"s":"r"},{"x":0.75,"y":1.53,"s":"r"},{"x":0.78,"y":1.45,"s":"r"},{"x":0.6,"y":1.47,"s":"r"},{"x":0.62,"y":1.5,"s":"r"},{"x":0.58,"y":1.36,"s":"r"},{"x":0.97,"y":1.36,"s":"r"},{"x":0.42,"y":1.36,"s":"r"},{"x":0.44,"y":1.32,"s":"r"},{"x":1.27,"y":1.7,"s":"r"},{"x":1.18,"y":1.54,"s":"r"},{"x":1.39,"y":1.74,"s":"r"},{"x":1.41,"y":1.7,"s":"r"},{"x":1.37,"y":1.75,"s":"r"},{"x":1.59,"y":1.76,"s":"r"},{"x":2.17,"y":1.81,"s":"r"},
{"x":-0.4,"y":1.32,"s":"r"},{"x":-0.44,"y":1.35,"s":"r"},{"x":-0.49,"y":1.31,"s":"r"},{"x":-0.55,"y":1.38,"s":"r"},{"x":-0.62,"y":1.34,"s":"r"},{"x":-0.7,"y":1.36,"s":"r"},{"x":-0.78,"y":1.33,"s":"r"},{"x":-0.41,"y":1.42,"s":"r"},{"x":-0.46,"y":1.46,"s":"r"},{"x":-0.52,"y":1.43,"s":"r"},{"x":-0.58,"y":1.48,"s":"r"},{"x":-0.66,"y":1.44,"s":"r"},{"x":-0.42,"y":1.55,"s":"r"},{"x":-0.48,"y":1.58,"s":"r"},{"x":-0.54,"y":1.53,"s":"r"},{"x":-0.61,"y":1.6,"s":"r"},{"x":-0.69,"y":1.56,"s":"r"},{"x":-0.4,"y":1.66,"s":"r"},{"x":-0.45,"y":1.7,"s":"r"},{"x":-0.51,"y":1.65,"s":"r"},{"x":-0.57,"y":1.72,"s":"r"},{"x":-0.64,"y":1.68,"s":"r"},{"x":-0.73,"y":1.7,"s":"r"},{"x":-0.43,"y":1.8,"s":"r"},{"x":-0.49,"y":1.84,"s":"r"},{"x":-0.55,"y":1.78,"s":"r"},{"x":-0.6,"y":1.88,"s":"r"},{"x":-0.67,"y":1.82,"s":"r"},{"x":-0.41,"y":1.92,"s":"r"},{"x":-0.47,"y":1.96,"s":"r"},{"x":-0.53,"y":1.9,"s":"r"},{"x":-0.58,"y":2.0,"s":"r"},{"x":-0.64,"y":1.95,"s":"r"},{"x":-0.4,"y":2.04,"s":"r"},{"x":-0.45,"y":2.08,"s":"r"},{"x":-0.5,"y":2.12,"s":"r"},{"x":-0.61,"y":2.1,"s":"r"},{"x":-0.68,"y":2.05,"s":"r"},{"x":-0.43,"y":2.3,"s":"r"},{"x":-0.48,"y":2.35,"s":"r"},{"x":-0.52,"y":2.22,"s":"r"},{"x":-0.59,"y":2.18,"s":"r"},{"x":-0.76,"y":2.0,"s":"r"},{"x":-0.8,"y":1.75,"s":"r"},{"x":-0.72,"y":1.5,"s":"r"},{"x":-0.85,"y":1.4,"s":"r"},{"x":-0.63,"y":2.32,"s":"r"},{"x":-0.41,"y":1.75,"s":"r"},{"x":-0.56,"y":1.62,"s":"r"},{"x":-0.46,"y":1.88,"s":"r"},{"x":-0.39,"y":2.12,"s":"r"},{"x":-0.86,"y":1.95,"s":"r"},{"x":-1.0,"y":1.5,"s":"r"},{"x":-1.12,"y":1.65,"s":"r"},{"x":-0.9,"y":2.3,"s":"r"}
],
"ptsC": [
{"x":-0.25,"y":4.23,"s":"n"},{"x":-0.29,"y":3.94,"s":"n"},{"x":-0.26,"y":3.7,"s":"n"},{"x":-0.31,"y":3.48,"s":"n"},{"x":-0.23,"y":3.52,"s":"n"},{"x":-0.15,"y":3.51,"s":"n"},{"x":-0.1,"y":3.5,"s":"n"},{"x":-0.14,"y":3.38,"s":"n"},{"x":-0.11,"y":3.38,"s":"n"},{"x":-0.24,"y":3.36,"s":"n"},{"x":-0.19,"y":3.27,"s":"n"},{"x":-0.09,"y":3.19,"s":"n"},{"x":-0.25,"y":3.1,"s":"n"},{"x":-0.18,"y":3.1,"s":"n"},{"x":-0.12,"y":3.12,"s":"n"},{"x":-0.15,"y":3.06,"s":"n"},{"x":-0.37,"y":3.13,"s":"n"},{"x":0.18,"y":3.71,"s":"n"},{"x":0.23,"y":3.54,"s":"n"},{"x":0.19,"y":3.39,"s":"n"},{"x":0.29,"y":3.38,"s":"n"},{"x":0.37,"y":3.41,"s":"n"},{"x":0.1,"y":3.08,"s":"n"},{"x":0.17,"y":3.08,"s":"n"},{"x":0.27,"y":3.07,"s":"n"},{"x":0.14,"y":2.85,"s":"n"},{"x":0.16,"y":2.79,"s":"n"},{"x":0.25,"y":2.86,"s":"n"},{"x":0.34,"y":2.83,"s":"n"},{"x":0.17,"y":2.63,"s":"n"},{"x":0.19,"y":2.57,"s":"n"},{"x":0.28,"y":2.54,"s":"n"},{"x":0.34,"y":2.59,"s":"n"},{"x":0.06,"y":2.41,"s":"n"},{"x":-0.16,"y":2.9,"s":"n"},{"x":-0.14,"y":2.79,"s":"n"},{"x":-0.16,"y":2.66,"s":"n"},{"x":-0.22,"y":2.54,"s":"n"},{"x":-0.35,"y":2.91,"s":"n"},
{"x":-0.3,"y":2.8,"s":"n"},{"x":-0.2,"y":2.72,"s":"n"},{"x":-0.1,"y":2.68,"s":"n"},{"x":-0.28,"y":2.62,"s":"n"},{"x":-0.33,"y":2.5,"s":"n"},{"x":-0.12,"y":2.48,"s":"n"},{"x":-0.25,"y":2.42,"s":"n"},{"x":-0.18,"y":2.38,"s":"n"},{"x":-0.08,"y":2.35,"s":"n"},{"x":-0.31,"y":2.33,"s":"n"},{"x":0.22,"y":2.75,"s":"n"},{"x":0.09,"y":2.7,"s":"n"},{"x":0.3,"y":2.68,"s":"n"},{"x":0.12,"y":2.5,"s":"n"},{"x":0.22,"y":2.46,"s":"n"},{"x":0.31,"y":2.4,"s":"n"},{"x":0.15,"y":2.36,"s":"n"},{"x":0.26,"y":2.3,"s":"n"},{"x":0.35,"y":2.28,"s":"n"},{"x":0.09,"y":2.25,"s":"n"},
{"x":-0.77,"y":0.92,"s":"n"},{"x":-0.71,"y":0.47,"s":"n"},{"x":-0.65,"y":1.06,"s":"n"},{"x":-1.21,"y":0.93,"s":"n"},{"x":-0.9,"y":0.7,"s":"n"},{"x":-0.58,"y":0.62,"s":"n"},{"x":-0.62,"y":1.2,"s":"n"},{"x":-0.8,"y":1.1,"s":"n"},{"x":-0.55,"y":0.35,"s":"n"},{"x":-0.68,"y":0.8,"s":"n"},{"x":-0.52,"y":1.0,"s":"n"},{"x":-0.85,"y":0.55,"s":"n"},{"x":-0.6,"y":0.45,"s":"n"},{"x":-0.74,"y":1.25,"s":"n"},
{"x":-0.44,"y":0.5,"s":"n"},{"x":-0.47,"y":0.72,"s":"n"},{"x":-0.45,"y":0.9,"s":"n"},{"x":-0.5,"y":1.05,"s":"n"},{"x":-0.46,"y":1.2,"s":"n"},{"x":-0.43,"y":1.28,"s":"n"},{"x":-0.54,"y":0.85,"s":"n"},{"x":-0.58,"y":0.98,"s":"n"},{"x":-0.42,"y":0.38,"s":"n"},{"x":-0.49,"y":0.6,"s":"n"},{"x":-0.52,"y":1.2,"s":"n"},{"x":-0.6,"y":1.12,"s":"n"},{"x":-0.46,"y":1.0,"s":"n"},{"x":-0.56,"y":0.75,"s":"n"},{"x":-0.63,"y":0.62,"s":"n"},{"x":-0.7,"y":0.8,"s":"n"},{"x":-0.66,"y":1.0,"s":"n"},{"x":-0.48,"y":0.3,"s":"n"},
{"x":0.71,"y":0.27,"s":"n"},{"x":0.86,"y":0.65,"s":"n"},{"x":0.91,"y":0.73,"s":"n"},{"x":1.15,"y":0.65,"s":"n"},{"x":0.75,"y":0.99,"s":"n"},{"x":0.58,"y":0.8,"s":"n"},{"x":0.62,"y":1.15,"s":"n"},{"x":0.52,"y":0.45,"s":"n"},{"x":0.68,"y":0.55,"s":"n"},{"x":0.8,"y":1.05,"s":"n"},{"x":0.55,"y":1.25,"s":"n"},{"x":0.65,"y":0.9,"s":"n"},
{"x":0.45,"y":0.5,"s":"n"},{"x":0.48,"y":0.72,"s":"n"},{"x":0.46,"y":0.9,"s":"n"},{"x":0.51,"y":1.05,"s":"n"},{"x":0.47,"y":1.2,"s":"n"},{"x":0.44,"y":1.28,"s":"n"},{"x":0.55,"y":0.85,"s":"n"},{"x":0.59,"y":0.98,"s":"n"},{"x":0.43,"y":0.38,"s":"n"},{"x":0.5,"y":0.6,"s":"n"},{"x":0.53,"y":1.2,"s":"n"},{"x":0.61,"y":1.1,"s":"n"},{"x":0.47,"y":1.0,"s":"n"},{"x":0.57,"y":0.72,"s":"n"},{"x":0.64,"y":0.6,"s":"n"},{"x":0.7,"y":0.85,"s":"n"},{"x":0.67,"y":1.05,"s":"n"},{"x":0.49,"y":0.3,"s":"n"},
{"x":-1.15,"y":1.61,"s":"r"},{"x":-0.87,"y":1.92,"s":"r"},{"x":-0.7,"y":1.88,"s":"r"},{"x":-0.62,"y":2.25,"s":"r"},{"x":-0.56,"y":2.11,"s":"r"},{"x":-0.51,"y":2.08,"s":"r"},{"x":-0.42,"y":2.17,"s":"r"},{"x":-0.4,"y":2.37,"s":"r"},{"x":-0.39,"y":2.32,"s":"r"},{"x":-0.39,"y":1.97,"s":"r"},{"x":-0.46,"y":1.94,"s":"r"},{"x":-0.41,"y":1.85,"s":"r"},{"x":-0.47,"y":1.74,"s":"r"},{"x":-0.47,"y":1.69,"s":"r"},{"x":-0.4,"y":1.67,"s":"r"},{"x":-0.42,"y":1.63,"s":"r"},{"x":-0.4,"y":1.48,"s":"r"},{"x":-0.63,"y":1.42,"s":"r"},{"x":-0.58,"y":1.45,"s":"r"},{"x":-0.55,"y":1.35,"s":"r"},{"x":-0.45,"y":1.33,"s":"r"},{"x":-0.42,"y":1.34,"s":"r"},{"x":-0.39,"y":1.31,"s":"r"},
{"x":0.55,"y":2.77,"s":"r"},{"x":0.45,"y":2.3,"s":"r"},{"x":0.49,"y":2.28,"s":"r"},{"x":0.4,"y":1.99,"s":"r"},{"x":0.81,"y":1.89,"s":"r"},{"x":0.48,"y":1.8,"s":"r"},{"x":0.42,"y":1.71,"s":"r"},{"x":0.45,"y":1.72,"s":"r"},{"x":0.49,"y":1.71,"s":"r"},{"x":0.39,"y":1.56,"s":"r"},{"x":0.49,"y":1.55,"s":"r"},{"x":0.56,"y":1.6,"s":"r"},{"x":0.72,"y":1.62,"s":"r"},{"x":0.67,"y":1.56,"s":"r"},{"x":0.42,"y":1.45,"s":"r"},{"x":0.52,"y":1.44,"s":"r"},{"x":0.62,"y":1.47,"s":"r"},{"x":0.39,"y":1.34,"s":"r"},{"x":0.44,"y":1.35,"s":"r"},{"x":0.71,"y":1.35,"s":"r"}
]
},
"concat": [
{
 "width": 382, "height": 374,
 "layer": [
  {"data": {"name": "gridAC"}, "transform": [{"filter": "datum.o == 'x'"}], "mark": {"type": "rule", "color": "#dadada", "strokeWidth": 1}, "encoding": {"x": {"field": "v", "type": "quantitative"}}},
  {"data": {"name": "gridAC"}, "transform": [{"filter": "datum.o == 'y'"}], "mark": {"type": "rule", "color": "#dadada", "strokeWidth": 1}, "encoding": {"y": {"field": "v", "type": "quantitative"}}},
  {"data": {"name": "areaA"}, "transform": [{"filter": "datum.t == 'm'"}], "mark": {"type": "area", "orient": "horizontal", "color": "#1e2a84", "opacity": 0.55},
   "encoding": {
    "y": {"field": "y", "type": "quantitative", "scale": {"domain": [0, 5], "nice": false, "zero": false},
     "axis": {"title": "- log10 p value (End vs. Pre)", "titlePadding": 26, "titleY": 181, "offset": 3, "labelOverlap": false, "format": "d", "values": [0,1,2,3,4,5], "gridOpacity": {"condition": {"test": "datum.value <= 0 || datum.value >= 5", "value": 0}, "value": 1}}},
    "x": {"field": "x1", "type": "quantitative", "scale": {"domain": [-2, 2], "nice": false, "zero": false},
     "axis": {"title": "Fold-Change (End vs. Pre)", "titlePadding": 9, "titleX": 211, "offset": 5, "labelOverlap": false, "values": [-2,-1,0,1,2], "labelExpr": "datum.value == 0 ? 'N/C' : (datum.value < 0 ? '- ' + pow(2, -datum.value) : '' + pow(2, datum.value))", "gridOpacity": {"condition": {"test": "abs(datum.value) >= 2", "value": 0}, "value": 1}}},
    "x2": {"field": "x2"},
    "detail": {"field": "g"}
   }},
  {"data": {"name": "areaA"}, "transform": [{"filter": "datum.t == 'c'"}], "mark": {"type": "area", "orient": "horizontal", "color": "#1e2a84", "opacity": 1},
   "encoding": {"y": {"field": "y", "type": "quantitative"}, "x": {"field": "x1", "type": "quantitative"}, "x2": {"field": "x2"}, "detail": {"field": "g"}}},
  {"data": {"name": "ptsA"}, "transform": [{"filter": "datum.s == 'n'"}], "mark": {"type": "circle", "size": 4, "color": "#1e2a84", "opacity": 1},
   "encoding": {"x": {"field": "x", "type": "quantitative"}, "y": {"field": "y", "type": "quantitative"}}},
  {"data": {"values": [{}]}, "mark": {"type": "rule", "color": "#62c148", "strokeWidth": 2}, "encoding": {"x": {"datum": -0.3785}}},
  {"data": {"values": [{}]}, "mark": {"type": "rule", "color": "#62c148", "strokeWidth": 2}, "encoding": {"x": {"datum": 0.3785}}},
  {"data": {"values": [{}]}, "mark": {"type": "rule", "color": "#62c148", "strokeWidth": 2}, "encoding": {"y": {"datum": 1.301}}},
  {"data": {"name": "ptsA"}, "transform": [{"filter": "datum.s == 'r'"}], "mark": {"type": "circle", "size": 10, "color": "#e3191c", "opacity": 1},
   "encoding": {"x": {"field": "x", "type": "quantitative"}, "y": {"field": "y", "type": "quantitative"}}},
  {"data": {"values": [{}]}, "mark": {"type": "text", "align": "right", "baseline": "alphabetic", "fontSize": 31, "font": "Liberation Sans", "color": "#000"},
   "encoding": {"x": {"datum": 1.86}, "y": {"datum": 4.37}, "text": {"value": "CTR"}}},
  {"data": {"values": [{}]}, "mark": {"type": "text", "align": "left", "baseline": "alphabetic", "fontSize": 35, "font": "Liberation Sans", "color": "#000"},
   "encoding": {"x": {"datum": -3.466}, "y": {"datum": 4.52}, "text": {"value": "a"}}}
 ]
},
{
 "width": 393, "height": 371,
 "layer": [
  {"data": {"name": "gridB"}, "transform": [{"filter": "datum.o == 'x'"}], "mark": {"type": "rule", "color": "#dadada", "strokeWidth": 1}, "encoding": {"x": {"field": "v", "type": "quantitative"}}},
  {"data": {"name": "gridB"}, "transform": [{"filter": "datum.o == 'y'"}], "mark": {"type": "rule", "color": "#dadada", "strokeWidth": 1}, "encoding": {"y": {"field": "v", "type": "quantitative"}}},
  {"data": {"name": "areaB"}, "transform": [{"filter": "datum.t == 'm'"}], "mark": {"type": "area", "orient": "horizontal", "color": "#1e2a84", "opacity": 0.55},
   "encoding": {
    "y": {"field": "y", "type": "quantitative", "scale": {"domain": [0, 5], "nice": false, "zero": false},
     "axis": {"title": "- log10 p value (End vs. Pre)", "titlePadding": 26, "titleY": 179, "offset": 3, "labelOverlap": false, "format": "d", "values": [0,1,2,3,4,5], "gridOpacity": {"condition": {"test": "datum.value <= 0 || datum.value >= 5", "value": 0}, "value": 1}}},
    "x": {"field": "x1", "type": "quantitative", "scale": {"domain": [-3, 3], "nice": false, "zero": false},
     "axis": {"title": "Fold-Change (End vs. Pre)", "titlePadding": 10, "titleX": 208, "offset": 5, "labelOverlap": false, "values": [-3,-2,-1,0,1,2,3], "labelExpr": "datum.value == 0 ? 'N/C' : (datum.value < 0 ? '- ' + pow(2, -datum.value) : '' + pow(2, datum.value))", "gridOpacity": {"condition": {"test": "abs(datum.value) >= 3", "value": 0}, "value": 1}}},
    "x2": {"field": "x2"},
    "detail": {"field": "g"}
   }},
  {"data": {"name": "areaB"}, "transform": [{"filter": "datum.t == 'c'"}], "mark": {"type": "area", "orient": "horizontal", "color": "#1e2a84", "opacity": 1},
   "encoding": {"y": {"field": "y", "type": "quantitative"}, "x": {"field": "x1", "type": "quantitative"}, "x2": {"field": "x2"}, "detail": {"field": "g"}}},
  {"data": {"name": "ptsB"}, "transform": [{"filter": "datum.s == 'n'"}], "mark": {"type": "circle", "size": 4, "color": "#1e2a84", "opacity": 1},
   "encoding": {"x": {"field": "x", "type": "quantitative"}, "y": {"field": "y", "type": "quantitative"}}},
  {"data": {"values": [{}]}, "mark": {"type": "rule", "color": "#62c148", "strokeWidth": 2}, "encoding": {"x": {"datum": -0.3785}}},
  {"data": {"values": [{}]}, "mark": {"type": "rule", "color": "#62c148", "strokeWidth": 2}, "encoding": {"x": {"datum": 0.3785}}},
  {"data": {"values": [{}]}, "mark": {"type": "rule", "color": "#62c148", "strokeWidth": 2}, "encoding": {"y": {"datum": 1.301}}},
  {"data": {"name": "ptsB"}, "transform": [{"filter": "datum.s == 'r'"}], "mark": {"type": "circle", "size": 10, "color": "#e3191c", "opacity": 1},
   "encoding": {"x": {"field": "x", "type": "quantitative"}, "y": {"field": "y", "type": "quantitative"}}},
  {"data": {"values": [{}]}, "mark": {"type": "text", "align": "right", "baseline": "alphabetic", "fontSize": 31, "font": "Liberation Sans", "color": "#000"},
   "encoding": {"x": {"datum": 2.4}, "y": {"datum": 4.39}, "text": {"value": "RE"}}},
  {"data": {"values": [{}]}, "mark": {"type": "text", "align": "left", "baseline": "alphabetic", "fontSize": 35, "font": "Liberation Sans", "color": "#000"},
   "encoding": {"x": {"datum": -5.188}, "y": {"datum": 4.52}, "text": {"value": "b"}}}
 ]
},
{
 "width": 382, "height": 371,
 "layer": [
  {"data": {"name": "gridAC"}, "transform": [{"filter": "datum.o == 'x'"}], "mark": {"type": "rule", "color": "#dadada", "strokeWidth": 1}, "encoding": {"x": {"field": "v", "type": "quantitative"}}},
  {"data": {"name": "gridAC"}, "transform": [{"filter": "datum.o == 'y'"}], "mark": {"type": "rule", "color": "#dadada", "strokeWidth": 1}, "encoding": {"y": {"field": "v", "type": "quantitative"}}},
  {"data": {"name": "areaC"}, "transform": [{"filter": "datum.t == 'm'"}], "mark": {"type": "area", "orient": "horizontal", "color": "#1e2a84", "opacity": 0.55},
   "encoding": {
    "y": {"field": "y", "type": "quantitative", "scale": {"domain": [0, 5], "nice": false, "zero": false},
     "axis": {"title": "- log10 p value (End vs. Pre)", "titlePadding": 26, "titleY": 179, "offset": 3, "labelOverlap": false, "format": "d", "values": [0,1,2,3,4,5], "gridOpacity": {"condition": {"test": "datum.value <= 0 || datum.value >= 5", "value": 0}, "value": 1}}},
    "x": {"field": "x1", "type": "quantitative", "scale": {"domain": [-2, 2], "nice": false, "zero": false},
     "axis": {"title": "Fold-Change (End vs. Pre)", "titlePadding": 9, "titleX": 211, "offset": 5, "labelOverlap": false, "values": [-2,-1,0,1,2], "labelExpr": "datum.value == 0 ? 'N/C' : (datum.value < 0 ? '- ' + pow(2, -datum.value) : '' + pow(2, datum.value))", "gridOpacity": {"condition": {"test": "abs(datum.value) >= 2", "value": 0}, "value": 1}}},
    "x2": {"field": "x2"},
    "detail": {"field": "g"}
   }},
  {"data": {"name": "areaC"}, "transform": [{"filter": "datum.t == 'c'"}], "mark": {"type": "area", "orient": "horizontal", "color": "#1e2a84", "opacity": 1},
   "encoding": {"y": {"field": "y", "type": "quantitative"}, "x": {"field": "x1", "type": "quantitative"}, "x2": {"field": "x2"}, "detail": {"field": "g"}}},
  {"data": {"name": "ptsC"}, "transform": [{"filter": "datum.s == 'n'"}], "mark": {"type": "circle", "size": 4, "color": "#1e2a84", "opacity": 1},
   "encoding": {"x": {"field": "x", "type": "quantitative"}, "y": {"field": "y", "type": "quantitative"}}},
  {"data": {"values": [{}]}, "mark": {"type": "rule", "color": "#62c148", "strokeWidth": 2}, "encoding": {"x": {"datum": -0.3785}}},
  {"data": {"values": [{}]}, "mark": {"type": "rule", "color": "#62c148", "strokeWidth": 2}, "encoding": {"x": {"datum": 0.3785}}},
  {"data": {"values": [{}]}, "mark": {"type": "rule", "color": "#62c148", "strokeWidth": 2}, "encoding": {"y": {"datum": 1.301}}},
  {"data": {"name": "ptsC"}, "transform": [{"filter": "datum.s == 'r'"}], "mark": {"type": "circle", "size": 10, "color": "#e3191c", "opacity": 1},
   "encoding": {"x": {"field": "x", "type": "quantitative"}, "y": {"field": "y", "type": "quantitative"}}},
  {"data": {"values": [{}]}, "mark": {"type": "text", "align": "right", "baseline": "alphabetic", "fontSize": 31, "font": "Liberation Sans", "color": "#000"},
   "encoding": {"x": {"datum": 1.86}, "y": {"datum": 4.38}, "text": {"value": "RVE"}}},
  {"data": {"values": [{}]}, "mark": {"type": "text", "align": "left", "baseline": "alphabetic", "fontSize": 35, "font": "Liberation Sans", "color": "#000"},
   "encoding": {"x": {"datum": -3.466}, "y": {"datum": 4.55}, "text": {"value": "c"}}}
 ]
}
],
"columns": 1,
"align": "none",
"spacing": 53
}
